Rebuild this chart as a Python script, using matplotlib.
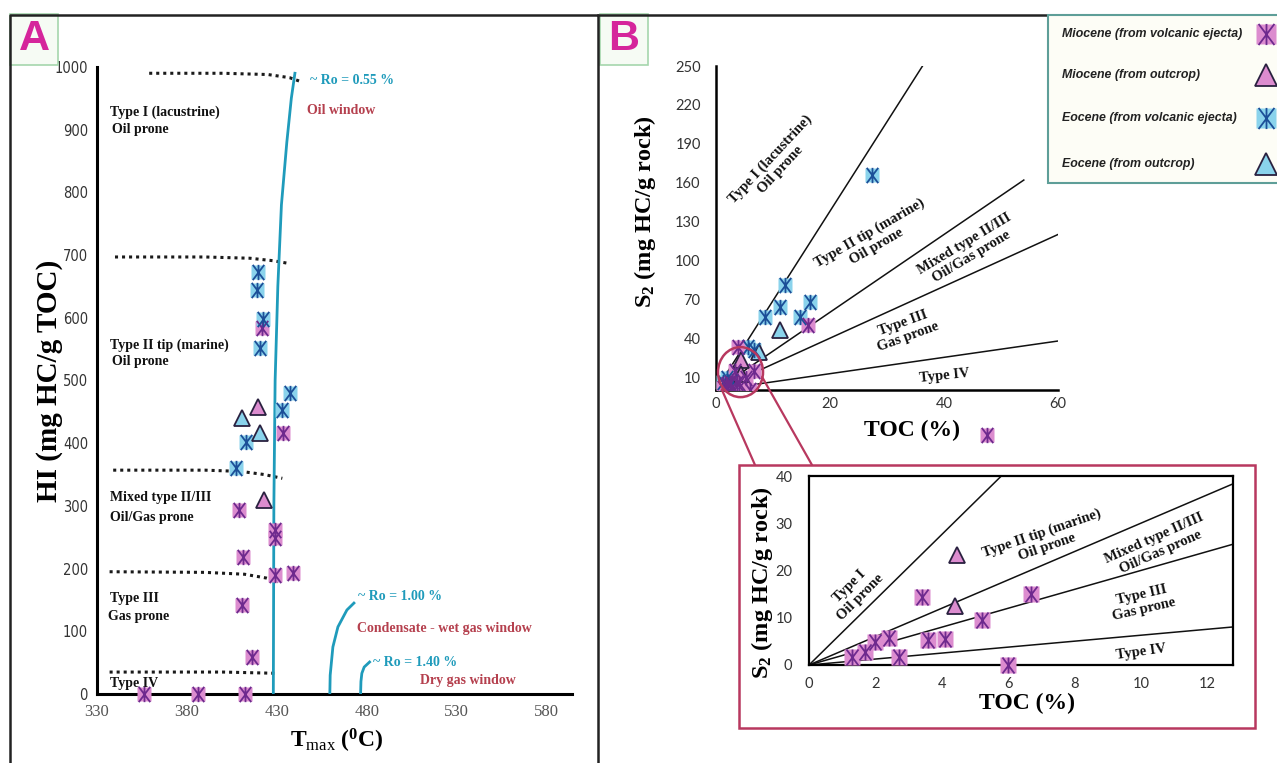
import matplotlib
matplotlib.use('Agg')
import matplotlib.pyplot as plt
from matplotlib.path import Path
from matplotlib.patches import Rectangle, Ellipse, ConnectionPatch
from matplotlib.lines import Line2D

W, H = 1277, 763

plt.rcParams['mathtext.fontset'] = 'custom'
plt.rcParams['mathtext.rm'] = 'Liberation Serif'
plt.rcParams['mathtext.bf'] = 'Liberation Serif:bold'
plt.rcParams['mathtext.it'] = 'Liberation Serif:italic'

SERIF = 'Liberation Serif'
TICKSANS = 'Lato'

PINK = '#dc8ccf'
PINK_LINE = '#6e2a8e'
BLUE = '#8ad3ec'
BLUE_LINE = '#1c4f98'
TRI_EDGE = '#2a2140'
TEAL = '#1f9bbb'
RED = '#b5404e'
FRAME_PINK = '#b8385f'

# ---------------- panel A : Tmax (C) vs HI (mg HC/g TOC)
a_mio_star_tmax = [421.5, 433.5, 409, 429, 429, 411, 429, 439, 410.5, 416, 356, 386, 412]
a_mio_star_hi = [584, 416, 293, 262, 249, 219, 190, 193, 142, 59, 0, 0, 0]
a_mio_tri_tmax = [419.5, 423]
a_mio_tri_hi = [458, 309]
a_eoc_star_tmax = [419.5, 419, 422, 420.5, 437, 433, 413, 407.5]
a_eoc_star_hi = [673, 644, 598, 552, 480, 453, 402, 360]
a_eoc_tri_tmax = [410.5, 420.5]
a_eoc_tri_hi = [440, 416]

# maturity (Ro) curves
ro055_t = [428, 428.3, 429, 430.5, 432.5, 435.5, 438, 440]
ro055_hi = [0, 300, 500, 650, 780, 880, 950, 990]
ro100_t = [459.4, 459.6, 461.1, 463.9, 468.9, 472.8]
ro100_hi = [0, 30, 75, 107, 134, 145]
ro140_t = [476.5, 476.7, 477.2, 478.5, 481.5]
ro140_hi = [0, 20, 33, 43, 51]

# kerogen type boundaries (dotted)
bound_t = [[359, 400, 425, 437, 444],
           [340, 390, 415, 428, 436],
           [339, 390, 410, 423, 433],
           [337, 390, 412, 424, 430.5],
           [337, 400, 430]]
bound_hi = [[990, 990, 988, 983, 976],
            [697, 697, 695, 691, 687],
            [357, 357, 355, 350, 344],
            [195, 194, 191, 185, 179],
            [35, 35, 33]]

# ---------------- panel B : TOC (%) vs S2 (mg HC/g rock)
in_mio_star_toc = [1.3, 1.7, 2.0, 2.4, 2.7, 3.4, 3.6, 4.1, 5.2, 6.7, 6.0]
in_mio_star_s2 = [1.7, 2.8, 4.9, 5.7, 1.7, 14.4, 5.3, 5.5, 9.5, 15.0, 0.0]
in_mio_tri_toc = [4.45, 4.4]
in_mio_tri_s2 = [23.3, 12.5]

b_mio_star_toc = in_mio_star_toc + [16.2, 3.9]
b_mio_star_s2 = in_mio_star_s2 + [50, 33]
b_eoc_star_toc = [27.4, 12.1, 11.2, 16.5, 8.6, 14.7, 5.6, 6.6, 1.2, 2.0, 2.8, 1.6]
b_eoc_star_s2 = [166, 81, 64, 68, 56, 56, 33, 31, 6, 9, 7, 4]
b_eoc_tri_toc = [11.2, 7.6]
b_eoc_tri_s2 = [46, 29]
b_stray_toc = [47.5]
b_stray_s2 = [-34.7]

type_slopes = [6.9, 3.0, 2.0, 0.63]
b_line_end = [36.2, 54, 60, 60]

legend_labels = ['Miocene (from volcanic ejecta)', 'Miocene (from outcrop)',
                 'Eocene (from volcanic ejecta)', 'Eocene (from outcrop)']

ASTER = Path([(0, -1), (0, 1), (-0.75, -1), (0.75, 1), (-0.75, 1), (0.75, -1)],
             [Path.MOVETO, Path.LINETO] * 3)


def fig_box(x0, y0, x1, y1):
    # pixel box (top-left origin) -> figure fraction rect
    return [x0 / W, 1 - y1 / H, (x1 - x0) / W, (y1 - y0) / H]


def stars(ax, x, y, fill, edge, ms=10.5, **kw):
    ax.plot(x, y, ls='none', marker='s', ms=ms, mfc=fill, mec='none', zorder=4, **kw)
    ax.plot(x, y, ls='none', marker=ASTER, ms=ms * 1.05, mfc='none', mec=edge,
            mew=1.3, zorder=5, **kw)


def tris(ax, x, y, fill, ms=11.5, **kw):
    ax.plot(x, y, ls='none', marker='^', ms=ms, mfc=fill, mec=TRI_EDGE, mew=1.3,
            zorder=4, **kw)


fig = plt.figure(figsize=(W / 100, H / 100), dpi=100)

# ============ panel A
axA = fig.add_axes(fig_box(97, 67, 572, 694))
axA.set_xlim(330, 594)
axA.set_ylim(0, 1000)
axA.set_xticks([330, 380, 430, 480, 530, 580])
axA.set_yticks(range(0, 1001, 100))
for s in ['top', 'right']:
    axA.spines[s].set_visible(False)
for s in ['left', 'bottom']:
    axA.spines[s].set_linewidth(2.2)
axA.tick_params(axis='y', length=0, pad=6.5, labelsize=10.5, labelcolor='#333')
axA.tick_params(axis='x', length=0, pad=7, labelsize=12, labelcolor='#555')
for lab in axA.get_yticklabels():
    lab.set_family('DejaVu Sans')
    lab.set_stretch('condensed')
for lab in axA.get_xticklabels():
    lab.set_family(SERIF)

for t, h in zip(bound_t, bound_hi):
    axA.plot(t, h, color='#1a1a1a', ls=(0, (1, 1.3)), lw=2.2, zorder=2)
axA.plot(ro055_t, ro055_hi, color=TEAL, lw=2, zorder=3)
axA.plot(ro100_t, ro100_hi, color=TEAL, lw=2, zorder=3)
axA.plot(ro140_t, ro140_hi, color=TEAL, lw=2, zorder=3)

stars(axA, a_mio_star_tmax, a_mio_star_hi, PINK, PINK_LINE, clip_on=False)
tris(axA, a_mio_tri_tmax, a_mio_tri_hi, PINK)
stars(axA, a_eoc_star_tmax, a_eoc_star_hi, BLUE, BLUE_LINE)
tris(axA, a_eoc_tri_tmax, a_eoc_tri_hi, BLUE)

tkw = dict(family=SERIF, weight='bold', fontsize=10, va='center', ha='left')
axA.text(448.3, 979, '~ Ro = 0.55 %', color=TEAL, **tkw)
axA.text(446.7, 931, 'Oil window', color=RED, **tkw)
axA.text(475, 155, '~ Ro = 1.00 %', color=TEAL, **tkw)
axA.text(474.4, 105, 'Condensate - wet gas window', color=RED, **tkw)
axA.text(483.3, 51, '~ Ro = 1.40 %', color=TEAL, **tkw)
axA.text(509.4, 21, 'Dry gas window', color=RED, **tkw)

axA.text(337.2, 928, 'Type I (lacustrine)', color='#111', **tkw)
axA.text(338.3, 900, 'Oil prone', color='#111', **tkw)
axA.text(337.2, 557, 'Type II tip (marine)', color='#111', **tkw)
axA.text(338.3, 530, 'Oil prone', color='#111', **tkw)
axA.text(337.2, 314, 'Mixed type II/III', color='#111', **tkw)
axA.text(337.2, 282, 'Oil/Gas prone', color='#111', **tkw)
axA.text(337.2, 153, 'Type III', color='#111', **tkw)
axA.text(336.2, 124, 'Gas prone', color='#111', **tkw)
axA.text(337.2, 17, 'Type IV', color='#111', **tkw)

axA.set_ylabel('HI (mg HC/g TOC)', family=SERIF, weight='bold', fontsize=21)
axA.yaxis.set_label_coords(-0.072, 0.5)
axA.set_xlabel(r'$\mathbf{T}_{\mathrm{max}}\ \mathbf{(^{0}C)}$', fontsize=17)
axA.xaxis.set_label_coords(0.505, -0.052)

# ============ panel B (main)
axB = fig.add_axes(fig_box(716, 66, 1058, 390))
axB.set_xlim(0, 60)
axB.set_ylim(0, 250)
axB.set_xticks([0, 20, 40, 60])
axB.set_yticks(range(10, 251, 30))
for s in ['top', 'right']:
    axB.spines[s].set_visible(False)
for s in ['left', 'bottom']:
    axB.spines[s].set_linewidth(1.8)
axB.tick_params(axis='y', length=0, pad=11, labelsize=10.5, labelcolor='#333')
axB.tick_params(axis='x', length=0, pad=5, labelsize=10.5, labelcolor='#333')
for lab in axB.get_xticklabels() + axB.get_yticklabels():
    lab.set_family(TICKSANS)

for k, end in zip(type_slopes, b_line_end):
    axB.plot([0, end], [0, k * end], color='#111', lw=1.1, zorder=2)

stars(axB, b_eoc_star_toc, b_eoc_star_s2, BLUE, BLUE_LINE)
tris(axB, b_eoc_tri_toc, b_eoc_tri_s2, BLUE)
stars(axB, b_mio_star_toc, b_mio_star_s2, PINK, PINK_LINE)
tris(axB, in_mio_tri_toc, in_mio_tri_s2, PINK)
stars(axB, b_stray_toc, b_stray_s2, PINK, PINK_LINE, clip_on=False)

rkw = dict(family=SERIF, weight='bold', fontsize=10.5, ha='center', va='center',
           multialignment='center', color='#111', linespacing=1.15)
axB.text(10.4, 174, 'Type I (lacustrine)\nOil prone', rotation=47, **rkw)
axB.text(27.5, 116, 'Type II tip (marine)\nOil prone', rotation=30, **rkw)
axB.text(44.2, 108, 'Mixed type II/III\nOil/Gas prone', rotation=31, **rkw)
axB.text(33.2, 46, 'Type III\nGas prone', rotation=20, **rkw)
axB.text(40, 10.8, 'Type IV', rotation=6, **rkw)

axB.set_ylabel(r'$\mathbf{S_2}$ (mg HC/g rock)', family=SERIF, weight='bold', fontsize=17.5)
axB.yaxis.set_label_coords(-0.17, 0.55)
axB.set_xlabel('TOC (%)', family=SERIF, weight='bold', fontsize=17)
axB.xaxis.set_label_coords(0.573, -0.093)

circle = Ellipse((4.3, 13.8), 7.9, 38.6, fill=False, ec=FRAME_PINK, lw=1.8,
                 clip_on=False, zorder=6)
axB.add_patch(circle)

# ============ inset
axI = fig.add_axes(fig_box(809, 476, 1233, 665))
axI.set_xlim(0, 12.78)
axI.set_ylim(0, 40)
axI.set_xticks(range(0, 13, 2))
axI.set_yticks(range(0, 41, 10))
for s in axI.spines.values():
    s.set_linewidth(1.6)
axI.tick_params(axis='y', length=0, pad=12, labelsize=10.5, labelcolor='#333')
axI.tick_params(axis='x', length=0, pad=9, labelsize=10.5, labelcolor='#333')
for lab in axI.get_xticklabels() + axI.get_yticklabels():
    lab.set_family(TICKSANS)

for k in type_slopes:
    axI.plot([0, 13], [0, k * 13], color='#111', lw=1.1, zorder=2)

stars(axI, in_mio_star_toc, in_mio_star_s2, PINK, PINK_LINE, ms=11, clip_on=False)
tris(axI, in_mio_tri_toc, in_mio_tri_s2, PINK, ms=12)

axI.text(1.39, 15.5, 'Type I\nOil prone', rotation=45, **rkw)
axI.text(7.1, 26.5, 'Type II tip (marine)\nOil prone', rotation=19, **rkw)
axI.text(10.5, 25.4, 'Mixed type II/III\nOil/Gas prone', rotation=24, **rkw)
axI.text(10.06, 13.3, 'Type III\nGas prone', rotation=13, **rkw)
axI.text(10.0, 2.8, 'Type IV', rotation=8, **rkw)

axI.set_ylabel(r'$\mathbf{S_2}$ (mg HC/g rock)', family=SERIF, weight='bold', fontsize=17.5)
axI.yaxis.set_label_coords(-0.08, 0.434)
axI.set_xlabel('TOC (%)', family=SERIF, weight='bold', fontsize=17)
axI.xaxis.set_label_coords(0.514, -0.15)

# inset frame and connectors
x0, y0, w0, h0 = fig_box(739, 465, 1255, 728)
fig.add_artist(Rectangle((x0, y0), w0, h0, transform=fig.transFigure, fill=False,
                         ec=FRAME_PINK, lw=1.8))
for start, end_px in [((1.0, 0.5), (755, 465)), ((8.1, 10), (812, 465))]:
    con = ConnectionPatch(xyA=start, coordsA=axB.transData,
                          xyB=(end_px[0] / W, 1 - end_px[1] / H), coordsB=fig.transFigure,
                          color=FRAME_PINK, lw=1.6)
    fig.add_artist(con)

# ============ panel frames and letters
fig.add_artist(Line2D([10 / W, 10 / W, 598 / W, 598 / W], [0, 1 - 15 / H, 1 - 15 / H, 0],
                      transform=fig.transFigure, color='#222', lw=1.8))
fig.add_artist(Line2D([598 / W, 1060 / W], [1 - 15 / H, 1 - 15 / H],
                      transform=fig.transFigure, color='#222', lw=1.8))
for letter, bx in [('A', 10), ('B', 600)]:
    x0, y0, w0, h0 = fig_box(bx, 14, bx + 48, 65)
    fig.add_artist(Rectangle((x0, y0), w0, h0, transform=fig.transFigure,
                             fc='#f6fbf4', ec='#a5d6ad', lw=1.2))
    fig.text(x0 + w0 / 2, y0 + h0 / 2, letter, ha='center', va='center',
             family='Liberation Sans', weight='bold', fontsize=31, color='#d5259b')

# ============ legend box (drawn in pixel coords, cut by the right edge like the original)
axL = fig.add_axes([0, 0, 1, 1], zorder=10)
axL.set_xlim(0, W)
axL.set_ylim(H, 0)
axL.axis('off')
axL.add_patch(Rectangle((1048, 15), 260, 168, fc='#fdfdf6', ec='#5e9e98', lw=1.5))
row_y = [34, 75, 118, 164]
for lab, yy in zip(legend_labels, row_y):
    axL.text(1062, yy, lab, ha='left', va='center', family='Liberation Sans',
             style='italic', weight='bold', fontsize=8.9, color='#222')
stars(axL, [1266], [row_y[0]], PINK, PINK_LINE, ms=14.5)
tris(axL, [1266], [row_y[1]], PINK, ms=16)
stars(axL, [1266], [row_y[2]], BLUE, BLUE_LINE, ms=14.5)
tris(axL, [1266], [row_y[3]], BLUE, ms=16)

fig.savefig('out.png', dpi=100)
